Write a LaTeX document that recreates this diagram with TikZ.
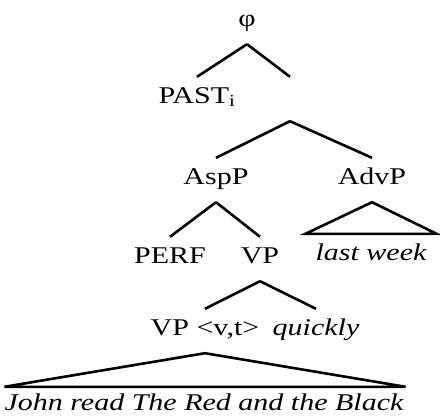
\documentclass[tikz,border=0pt]{standalone}
\usepackage{fontspec}
\setmainfont{Liberation Serif}[FakeStretch=1.25]
\usepackage{tikz}

\begin{document}
\begin{tikzpicture}[
 x=1pt, y=-1pt,
 cat/.style={anchor=base, inner sep=0pt, text height=16pt, text depth=5pt, font=\fontsize{24}{28}\selectfont},
 leaf/.style={cat, font=\fontsize{24}{28}\selectfont\itshape},
 branch/.style={line width=2.6pt},
 roof/.style={line width=2.6pt, line join=miter}
]
\useasboundingbox (0,0) rectangle (440,416);

\node[cat]  (phi)   at (247,26)  {φ};
\node[cat]  (past)  at (197,103) {PAST\textsubscript{i}};
\node[cat]  (tp)    at (290,103) {};
\node[cat]  (asp)   at (216,184) {AspP};
\node[cat]  (advp)  at (372,184) {AdvP};
\node[leaf] (lw)    at (371,260) {last week};
\node[cat]  (perf)  at (170,263) {PERF};
\node[cat]  (vp)    at (260,263) {VP};
\node[cat]  (vpvt)  at (205,335) {VP <v,t>};
\node[leaf] (adv)   at (316,335) {quickly};
\node[leaf] (john)  at (204,410) {John read The Red and the Black};

\draw[branch] ([yshift=-13pt]phi.south) -- ([yshift=10pt]past.north);
\draw[branch] ([yshift=-13pt]phi.south) -- ([yshift=10pt]tp.north);
\draw[branch] ([yshift=-13pt]tp.south) -- ([yshift=10pt]asp.north);
\draw[branch] ([yshift=-13pt]tp.south) -- ([yshift=10pt]advp.north);
\draw[branch] ([yshift=-13pt]asp.south) -- ([yshift=10pt]perf.north);
\draw[branch] ([yshift=-13pt]asp.south) -- ([yshift=10pt]vp.north);
\draw[branch] ([yshift=-13pt]vp.south) -- ([yshift=10pt]vpvt.north);
\draw[branch] ([yshift=-13pt]vp.south) -- ([yshift=10pt]adv.north);

\draw[roof] ([yshift=-13pt]advp.south) -- ([xshift=-10pt,yshift=10pt]lw.north west)
  -- ([xshift=10pt,yshift=10pt]lw.north east) -- cycle;
\draw[roof] ([yshift=-13pt]vpvt.south) -- ([yshift=7pt]john.north west)
  -- ([xshift=2pt,yshift=7pt]john.north east) -- cycle;
\end{tikzpicture}
\end{document}
